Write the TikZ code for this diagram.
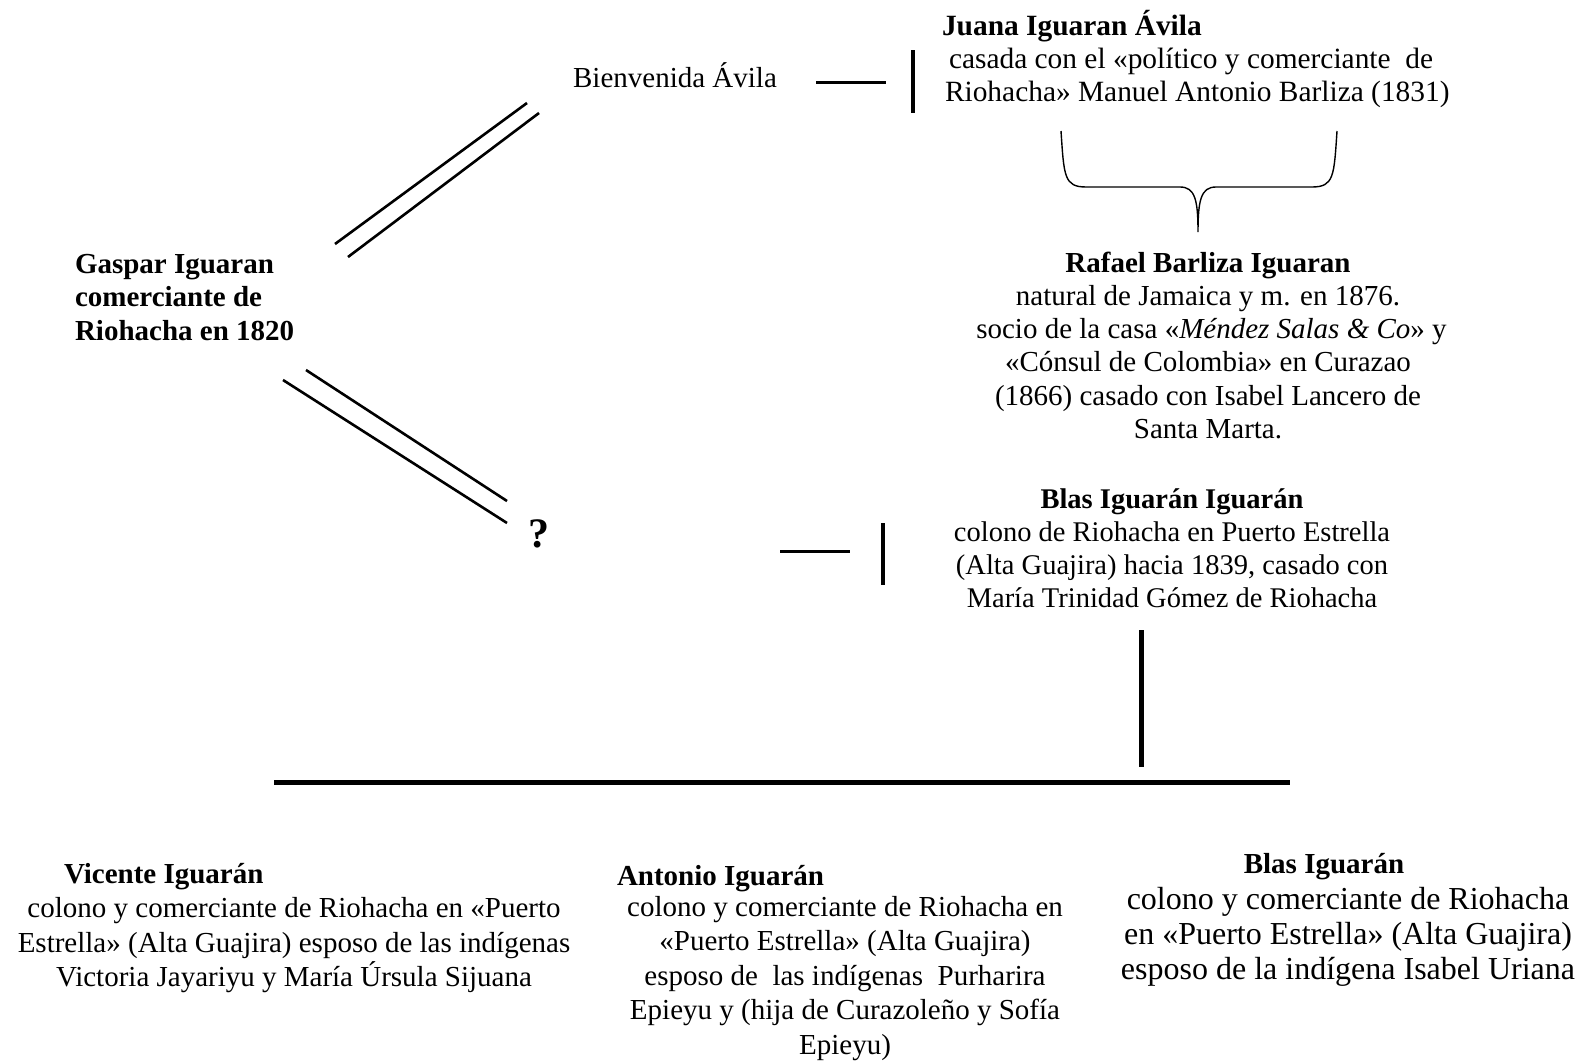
\documentclass[tikz,border=0pt]{standalone}
\usepackage{fontspec}
\setmainfont{Liberation Serif}
\begin{document}
\begin{tikzpicture}[x=1pt,y=-1pt,
  txt/.style={font=\fontsize{29}{33.3}\selectfont, inner sep=0pt, outer sep=0pt, align=center},
  txtl/.style={txt, align=left},
  txtb/.style={font=\fontsize{29}{34.5}\selectfont, inner sep=0pt, outer sep=0pt, align=center},
  garam/.style={font=\fontsize{28.5}{33}\selectfont, inner sep=0pt, outer sep=0pt, align=center},
  ttl/.style={font=\fontsize{29}{33}\selectfont\bfseries, inner sep=0pt, outer sep=0pt},
  linkline/.style={line width=2.6pt},
  tickline/.style={line width=3pt},
  barline/.style={line width=4pt},
  heavy/.style={line width=5pt},
  bracel/.style={line width=1.4pt}]
\useasboundingbox (0,0) rectangle (1581,1060);

% texts (base anchor = baseline of the last line)
\node[txt, anchor=base] (bienv) at (675,87.7) {Bienvenida Ávila};
\node[txtl, anchor=base west, font=\fontsize{29.4}{33.3}\selectfont] (juana) at (942,101.8)
  {{\bfseries Juana Iguaran Ávila}\\\hspace*{7pt}casada con el «político y comerciante\ \ de\\\hspace*{3pt}Riohacha» Manuel Antonio Barliza (1831)};
\node[txt, anchor=base] (rafael) at (1208,438.5)
  {{\bfseries Rafael Barliza Iguaran}\\natural de Jamaica y m. en 1876.\\\hspace*{7pt}socio de la casa «\textit{Méndez Salas \& Co}» y\\«Cónsul de Colombia» en Curazao\\(1866) casado con Isabel Lancero de\\Santa Marta.};
\node[txtl, anchor=base west, font=\fontsize{29}{33.3}\selectfont\bfseries] (gaspar) at (75,340)
  {Gaspar Iguaran\\comerciante de\\Riohacha en 1820};
\node[inner sep=0pt, anchor=base, font=\fontsize{42}{42}\selectfont\bfseries] (q) at (539,547) {?};
\node[garam, anchor=base] (blasii) at (1172,607.8)
  {{\bfseries Blas Iguarán Iguarán}\\colono de Riohacha en Puerto Estrella\\(Alta Guajira) hacia 1839, casado con\\María Trinidad Gómez de Riohacha};

\node[ttl, anchor=base west] (vicenteT) at (64,883) {Vicente Iguarán};
\node[txtb, anchor=base] (vicente) at (294,986.8)
  {colono y comerciante de Riohacha en «Puerto\\Estrella» (Alta Guajira) esposo de las indígenas\\Victoria Jayariyu y María Úrsula Sijuana};
\node[ttl, anchor=base west] (antonioT) at (617,885) {Antonio Iguarán};
\node[txtb, anchor=base] (antonio) at (845,1054.4)
  {colono y comerciante de Riohacha en\\«Puerto Estrella» (Alta Guajira)\\esposo de\ \ las indígenas\ \ Purharira\\Epieyu y (hija de Curazoleño y Sofía\\Epieyu)};
\node[ttl, anchor=base] (blasT) at (1324,873) {Blas Iguarán};
\node[txtb, anchor=base, font=\fontsize{32}{35.2}\selectfont] (blas) at (1348,979.5)
  {colono y comerciante de Riohacha\\en «Puerto Estrella» (Alta Guajira)\\esposo de la indígena Isabel Uriana};

% coordinates
\coordinate (u1a) at (335,244); \coordinate (u1b) at (527,103);
\coordinate (u2a) at (348,257); \coordinate (u2b) at (539,113);
\coordinate (l1a) at (306,370); \coordinate (l1b) at (507,501);
\coordinate (l2a) at (283,380); \coordinate (l2b) at (507,523);
\coordinate (d1a) at (816,82); \coordinate (d1b) at (886,82);
\coordinate (b1a) at (913,50); \coordinate (b1b) at (913,113);
\coordinate (d2a) at (780,551); \coordinate (d2b) at (850,551);
\coordinate (b2a) at (883,523); \coordinate (b2b) at (883,585);
\coordinate (va) at (1141,630); \coordinate (vb) at (1141,767);
\coordinate (ha) at (274,782); \coordinate (hb) at (1290,782);

% connectors
\draw[linkline] (u1a) -- (u1b);
\draw[linkline] (u2a) -- (u2b);
\draw[linkline] (l1a) -- (l1b);
\draw[linkline] (l2a) -- (l2b);
\draw[tickline] (d1a) -- (d1b);
\draw[barline] (b1a) -- (b1b);
\draw[tickline] (d2a) -- (d2b);
\draw[barline] (b2a) -- (b2b);
\draw[heavy] (va) -- (vb);
\draw[heavy] (ha) -- (hb);

% brace
\draw[bracel] (1061,131) .. controls (1064,176) and (1064,187) .. (1086,187)
  -- (1180,187) .. controls (1195,187) and (1198,200) .. (1198,232)
  .. controls (1198,200) and (1201,187) .. (1216,187)
  -- (1312,187) .. controls (1334,187) and (1334,176) .. (1337,131);
\end{tikzpicture}
\end{document}
